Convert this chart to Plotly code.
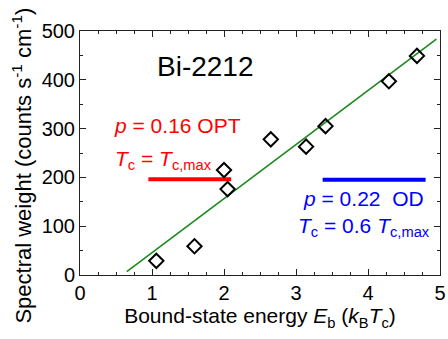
import plotly.graph_objects as go

# Measured spectral weight vs. bound-state energy
eb = [1.06, 1.59, 2.00, 2.05, 2.65, 3.14, 3.41, 4.29, 4.68]
weight = [29, 59, 215, 176, 278, 263, 305, 397, 449]

# Linear fit
fit_x = [0.65, 4.95]
fit_slope = 110.8
fit_intercept = -65.0
fit_y = [fit_slope * x + fit_intercept for x in fit_x]

# Reference levels for optimal and overdoped samples
opt_x = [0.95, 2.10]
opt_y = [196, 196]
od_x = [3.37, 4.80]
od_y = [195, 195]

FONT = "Liberation Sans, Arial, sans-serif"

fig = go.Figure()
fig.add_trace(go.Scatter(x=fit_x, y=fit_y, mode="lines",
                         line=dict(color="#1a8a1a", width=1.6), showlegend=False))
fig.add_trace(go.Scatter(x=opt_x, y=opt_y, mode="lines",
                         line=dict(color="#ff0000", width=4), showlegend=False))
fig.add_trace(go.Scatter(x=od_x, y=od_y, mode="lines",
                         line=dict(color="#0000ff", width=4), showlegend=False))
fig.add_trace(go.Scatter(x=eb, y=weight, mode="markers",
                         marker=dict(symbol="diamond-open", size=11, color="black",
                                     line=dict(color="black", width=2)),
                         showlegend=False))

fig.add_annotation(x=1.74, y=427, text="Bi-2212", showarrow=False,
                   font=dict(family=FONT, size=28, color="black"))
fig.add_annotation(x=0.45, y=307, xanchor="left", showarrow=False,
                   text="<i>p</i> = 0.16 OPT",
                   font=dict(family=FONT, size=21, color="#ff0000"))
fig.add_annotation(x=0.46, y=236, xanchor="left", showarrow=False,
                   text="<i>T</i><sub>c</sub> = <i>T</i><sub>c,max</sub>",
                   font=dict(family=FONT, size=21, color="#ff0000"))
fig.add_annotation(x=3.07, y=156, xanchor="left", showarrow=False,
                   text="<i>p</i> = 0.22  OD",
                   font=dict(family=FONT, size=21, color="#0000ff"))
fig.add_annotation(x=3.0, y=98, xanchor="left", showarrow=False,
                   text="<i>T</i><sub>c</sub> = 0.6 <i>T</i><sub>c,max</sub>",
                   font=dict(family=FONT, size=21, color="#0000ff"))

# Vertical axis title, placed as a rotated paper-anchored label
fig.add_annotation(xref="paper", yref="paper", x=-0.16, y=0.45,
                   xanchor="center", yanchor="middle", textangle=-90, showarrow=False,
                   text="Spectral weight (counts s<sup>-1</sup> cm<sup>-1</sup>)",
                   font=dict(family=FONT, size=22, color="black"))

axis_common = dict(showgrid=False, zeroline=False, showline=True, linecolor="#222",
                   linewidth=1, mirror="ticks", ticks="inside", ticklen=6,
                   tickcolor="#222", automargin=False,
                   tickfont=dict(family=FONT, size=20, color="black"))

fig.update_xaxes(range=[0, 5], dtick=1,
                 minor=dict(dtick=0.25, ticks="inside", ticklen=3, tickcolor="#222"),
                 title=dict(text="Bound-state energy <i>E</i><sub>b</sub> (<i>k</i><sub>B</sub><i>T</i><sub>c</sub>)",
                            font=dict(family=FONT, size=21, color="black"), standoff=5),
                 **axis_common)
fig.update_yaxes(range=[0, 500], dtick=100,
                 minor=dict(dtick=50, ticks="inside", ticklen=3, tickcolor="#222"),
                 **axis_common)

fig.update_layout(width=448, height=339, margin=dict(l=80, r=8, t=31, b=64),
                  plot_bgcolor="white", paper_bgcolor="white",
                  font=dict(family=FONT))

fig.write_html("out.html")
